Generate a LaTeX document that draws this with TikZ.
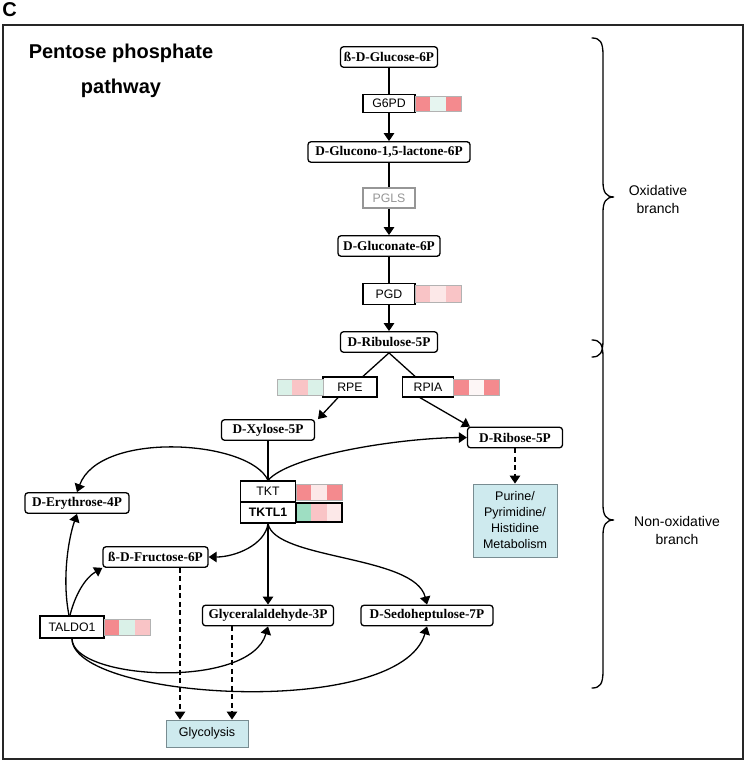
\documentclass[tikz,border=0pt]{standalone}
\usepackage{fontspec}
\setmainfont{Liberation Serif}
\setsansfont{Liberation Sans}
\usetikzlibrary{arrows.meta}
\definecolor{hred}{RGB}{244,138,142}
\definecolor{hpink}{RGB}{249,196,198}
\definecolor{hvpink}{RGB}{252,232,232}
\definecolor{hmint}{RGB}{218,241,232}
\definecolor{hvmint}{RGB}{230,245,240}
\definecolor{hgreen}{RGB}{158,222,194}
\definecolor{hwhite}{RGB}{253,246,246}
\definecolor{pgray}{RGB}{150,150,150}
\definecolor{sinkfill}{RGB}{206,234,238}
\definecolor{sinkborder}{RGB}{120,140,145}
\newcommand{\heatcells}[7]{%
  \begin{scope}[shift={(#1,#2)}]
    \fill[#4] (0,0) rectangle (15.33,#3);
    \fill[#5] (15.33,0) rectangle (30.67,#3);
    \fill[#6] (30.67,0) rectangle (46,#3);
    \draw[#7] (0,0) rectangle (46,#3);
  \end{scope}}
\begin{document}
\begin{tikzpicture}[x=1pt,y=-1pt,
  met/.style={draw, rounded corners=3pt, line width=1.3pt, fill=white, inner sep=0pt, minimum height=20.5pt, font=\fontsize{13.3}{15}\selectfont\bfseries},
  gene/.style={draw, line width=1.3pt, fill=white, inner sep=0pt, minimum width=52pt, minimum height=20pt, font=\sffamily\fontsize{12.3}{14}\selectfont},
  sink/.style={draw=sinkborder, fill=sinkfill, line width=0.8pt, inner sep=0pt, font=\sffamily\fontsize{12.5}{16}\selectfont, align=center},
  plain/.style={line width=1.3pt},
  conn/.style={line width=1.3pt, -{Triangle[length=8pt,width=10.5pt]}},
  dconn/.style={line width=1.3pt, dash pattern=on 5pt off 3.5pt, -{Triangle[length=8pt,width=10.5pt]}},
  thinb/.style={draw=black!30, line width=0.4pt},
  thickb/.style={draw=black, line width=1.4pt},
  brace/.style={line width=1.3pt, line cap=round},
  lab/.style={font=\sffamily\fontsize{14}{18}\selectfont, align=center},
]
\useasboundingbox (0,0) rectangle (745,762);
\draw[line width=2pt, black!85] (3,25) rectangle (743,759);
\node[font=\sffamily\bfseries\fontsize{20}{24}\selectfont] (clabel) at (9.5,9.5) {C};
\node[font=\sffamily\bfseries\fontsize{20}{24}\selectfont] (title1) at (121,53) {Pentose phosphate};
\node[font=\sffamily\bfseries\fontsize{20}{24}\selectfont] (title2) at (121,88) {pathway};

% nodes
\node[met, minimum width=97pt] (glu) at (389,57) {ß-D-Glucose-6P};
\node[gene, minimum height=18pt] (g6pd) at (389,103.5) {G6PD};
\node[met, minimum width=162pt] (glc) at (389,152) {D-Glucono-1,5-lactone-6P};
\node[gene, draw=pgray, text=pgray] (pgls) at (389,198) {PGLS};
\node[met, minimum width=102pt] (gcn) at (389,246) {D-Gluconate-6P};
\node[gene, minimum height=21pt] (pgd) at (389,294) {PGD};
\node[met, minimum width=97pt] (rib) at (389,342) {D-Ribulose-5P};
\node[gene, minimum width=54pt] (rpe) at (350,387) {RPE};
\node[gene, minimum width=51pt] (rpia) at (428,387) {RPIA};
\node[met, minimum width=93pt] (xyl) at (268,430) {D-Xylose-5P};
\node[met, minimum width=95pt] (ribo) at (515,437.5) {D-Ribose-5P};
\node[sink, minimum width=84pt, minimum height=73pt] (pur) at (515,520.5) {Purine/\\Pyrimidine/\\Histidine\\Metabolism};
\node[met, minimum width=104pt] (ery) at (77,503) {D-Erythrose-4P};
\node[gene, minimum width=55pt, minimum height=21pt] (tkt) at (268,491.5) {TKT};
\node[gene, minimum width=55pt, minimum height=21pt, font=\sffamily\bfseries\fontsize{12.3}{14}\selectfont] (tktl) at (268,512.5) {TKTL1};
\node[met, minimum width=105pt] (fru) at (155.5,557) {ß-D-Fructose-6P};
\node[met, minimum width=131pt] (gap) at (268,615.5) {Glyceralaldehyde-3P};
\node[met, minimum width=132pt] (sed) at (427,615.5) {D-Sedoheptulose-7P};
\node[gene, minimum width=64pt, minimum height=22pt] (tal) at (72,627) {TALDO1};
\node[sink, minimum width=82pt, minimum height=27pt] (gly) at (207,733.5) {Glycolysis};

% connectors
\draw[plain] (glu) -- (g6pd);
\draw[conn] (g6pd) -- (glc);
\draw[plain] (glc) -- (pgls);
\draw[conn] (pgls) -- (gcn);
\draw[plain] (gcn) -- (pgd);
\draw[conn] (pgd) -- (rib);
\draw[plain] (rib.south) -- ([xshift=13pt]rpe.north);
\draw[plain] (rib.south) -- ([xshift=-13pt]rpia.north);
\draw[conn] ([xshift=-12pt]rpe.south) -- ([xshift=50pt]xyl.north);
\draw[conn] ([xshift=-8pt]rpia.south) -- ([xshift=-45pt]ribo.north);
\draw[plain] (xyl) -- (tkt);
\draw[conn] (tkt.north) .. controls (250,440) and (100,430) .. (ery.north);
\draw[conn] (tkt.north) .. controls (290,455) and (400,438) .. (ribo.west);
\draw[conn] (tktl.south) .. controls (265,545) and (235,557) .. (fru.east);
\draw[conn] (tktl) -- (gap);
\draw[conn] (tktl.south) .. controls (275,560) and (415,555) .. (sed.north);
\draw[conn] ([xshift=-3pt]tal.north) .. controls (62,580) and (68,540) .. (ery.south);
\draw[conn] ([xshift=-2pt]tal.north) .. controls (75,595) and (85,578) .. (fru.south west);
\draw[conn] (tal.south) .. controls (72,680) and (250,690) .. (gap.south);
\draw[conn] (tal.south) .. controls (72,700) and (400,720) .. (sed.south);
\draw[dconn] ([xshift=24.5pt]fru.south) -- ([xshift=24.5pt]fru.south |- gly.north);
\draw[dconn] ([xshift=-36pt]gap.south) -- ([xshift=-36pt]gap.south |- gly.north);
\draw[dconn] (ribo) -- (pur);

% heatmaps
\heatcells{415}{96}{15}{hred}{hvmint}{hred}{thinb}
\heatcells{415}{285.5}{17}{hpink}{hvpink}{hpink}{thinb}
\heatcells{277}{379}{16}{hmint}{hpink}{hmint}{thinb}
\heatcells{453.5}{379}{16}{hred}{hwhite}{hred}{thinb}
\heatcells{296}{484}{16}{hred}{hvpink}{hred}{thinb}
\heatcells{296}{503}{19}{hgreen}{hpink}{hvpink}{thickb}
\heatcells{104}{619}{16}{hred}{hmint}{hpink}{thinb}

% braces
\draw[brace] (592,38) .. controls (600,38) and (603,42) .. (603,55) -- (603,182)
  .. controls (603,192) and (606,197) .. (614,197)
  .. controls (606,197) and (603,202) .. (603,212) -- (603,340)
  .. controls (603,353) and (600,357) .. (592,357);
\draw[brace] (592,340) .. controls (600,340) and (603,344) .. (603,357) -- (603,505)
  .. controls (603,515) and (606,520) .. (614,520)
  .. controls (606,520) and (603,525) .. (603,535) -- (603,671)
  .. controls (603,684) and (600,688) .. (592,688);
\node[lab] (oxlab) at (658,199) {Oxidative\\branch};
\node[lab] (nonoxlab) at (677,530) {Non-oxidative\\branch};
\end{tikzpicture}
\end{document}
